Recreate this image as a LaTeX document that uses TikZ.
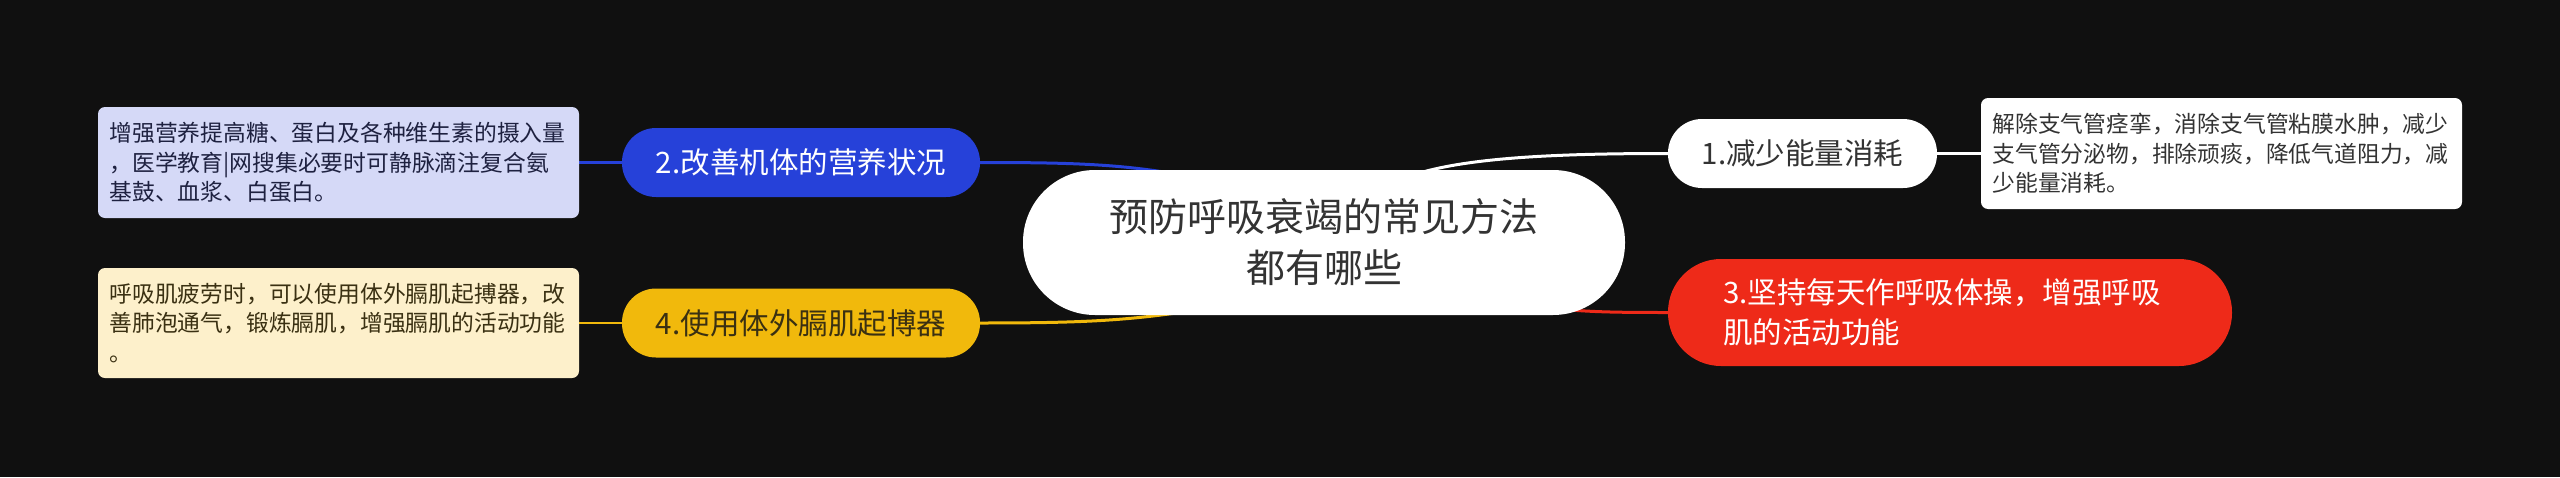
\documentclass[tikz,border=0pt]{standalone}
\usepackage{fontspec}
\setmainfont{Noto Sans CJK SC}
\usetikzlibrary{calc}
\definecolor{bgc}{HTML}{101010}
\definecolor{blueC}{HTML}{2641D9}
\definecolor{yellowC}{HTML}{F1B90C}
\definecolor{redC}{HTML}{EE2A19}
\definecolor{lavC}{HTML}{D5D9F7}
\definecolor{creamC}{HTML}{FDF0CB}
\definecolor{darkT}{HTML}{333333}
\definecolor{navyT}{HTML}{1E2140}
\definecolor{brownT}{HTML}{3A3012}
\pgfdeclarelayer{bglayer}
\pgfdeclarelayer{lines}
\pgfsetlayers{bglayer,lines,main}
\begin{document}
\begin{tikzpicture}[x=1pt,y=-1pt,
  pill/.style={rectangle, rounded corners=34pt, minimum height=69pt, inner sep=0pt, align=center, font=\fontsize{29.5}{38}\selectfont},
  detail/.style={rectangle, rounded corners=7pt, minimum width=481pt, minimum height=111pt, inner sep=0pt, text width=458pt, align=left, font=\fontsize{22.8}{29.5}\selectfont},
  link/.style={line width=3pt},
  sublink/.style={line width=2.6pt}]
\begin{pgfonlayer}{bglayer}
\fill[bgc] (0,0) rectangle (2560,477);
\end{pgfonlayer}
\useasboundingbox (0,0) rectangle (2560,477);

% central node
\node[rectangle, rounded corners=72pt, fill=white, minimum width=602pt, minimum height=145pt, inner sep=0pt, align=center, text=darkT, font=\fontsize{39}{51}\selectfont] (root) at (1324,242.5) {预防呼吸衰竭的常见方法\\都有哪些};

% branches
\node[pill, fill=blueC, text=white, minimum width=358pt] (n2) at (801,162.5) {2.改善机体的营养状况};
\node[pill, fill=yellowC, text=brownT, minimum width=358pt] (n4) at (801,323) {4.使用体外膈肌起博器};
\node[pill, fill=white, text=darkT, minimum width=269pt] (n1) at (1802.5,153.5) {1.减少能量消耗};
\node[rectangle, rounded corners=53pt, fill=redC, text=white, minimum width=564pt, minimum height=107pt, inner sep=0pt, text width=454pt, align=left, font=\fontsize{29.5}{40}\selectfont] (n3) at (1950,312.5) {3.坚持每天作呼吸体操，增强呼吸\\肌的活动功能};

% details
\node[detail, fill=lavC, text=navyT] (d2) at (338.5,162.5) {增强营养提高糖、蛋白及各种维生素的摄入量\\，医学教育|网搜集必要时可静脉滴注复合氨\\基鼓、血浆、白蛋白。};
\node[detail, fill=creamC, text=brownT, minimum height=110pt] (d4) at (338.5,323) {呼吸肌疲劳时，可以使用体外膈肌起搏器，改\\善肺泡通气，锻炼膈肌，增强膈肌的活动功能\\。};
\node[detail, fill=white, text=darkT] (d1) at (2221.5,153.5) {解除支气管痉挛，消除支气管粘膜水肿，减少\\支气管分泌物，排除顽痰，降低气道阻力，减\\少能量消耗。};

\begin{pgfonlayer}{lines}
\draw[link, blueC] ($(root.center)+(-74,-52.5)$) .. controls ($(root.center)+(-174,-77.5)$) and ($(n2.east)+(120,0)$) .. (n2.east);
\draw[link, yellowC] ($(root.center)+(-74,57.5)$) .. controls ($(root.center)+(-174,77.5)$) and ($(n4.east)+(120,0)$) .. (n4.east);
\draw[link, white] ($(root.center)+(76,-62.5)$) .. controls ($(root.center)+(126,-84.5)$) and ($(n1.west)+(-118,0)$) .. (n1.west);
\draw[link, redC] ($(root.center)+(176,57.5)$) .. controls ($(root.center)+(236,69.5)$) and ($(n3.west)+(-68,0)$) .. (n3.west);
\draw[sublink, blueC] (d2.east) -- (n2.west);
\draw[sublink, yellowC] (d4.east) -- (n4.west);
\draw[sublink, white] (n1.east) -- (d1.west);
\end{pgfonlayer}
\end{tikzpicture}
\end{document}
